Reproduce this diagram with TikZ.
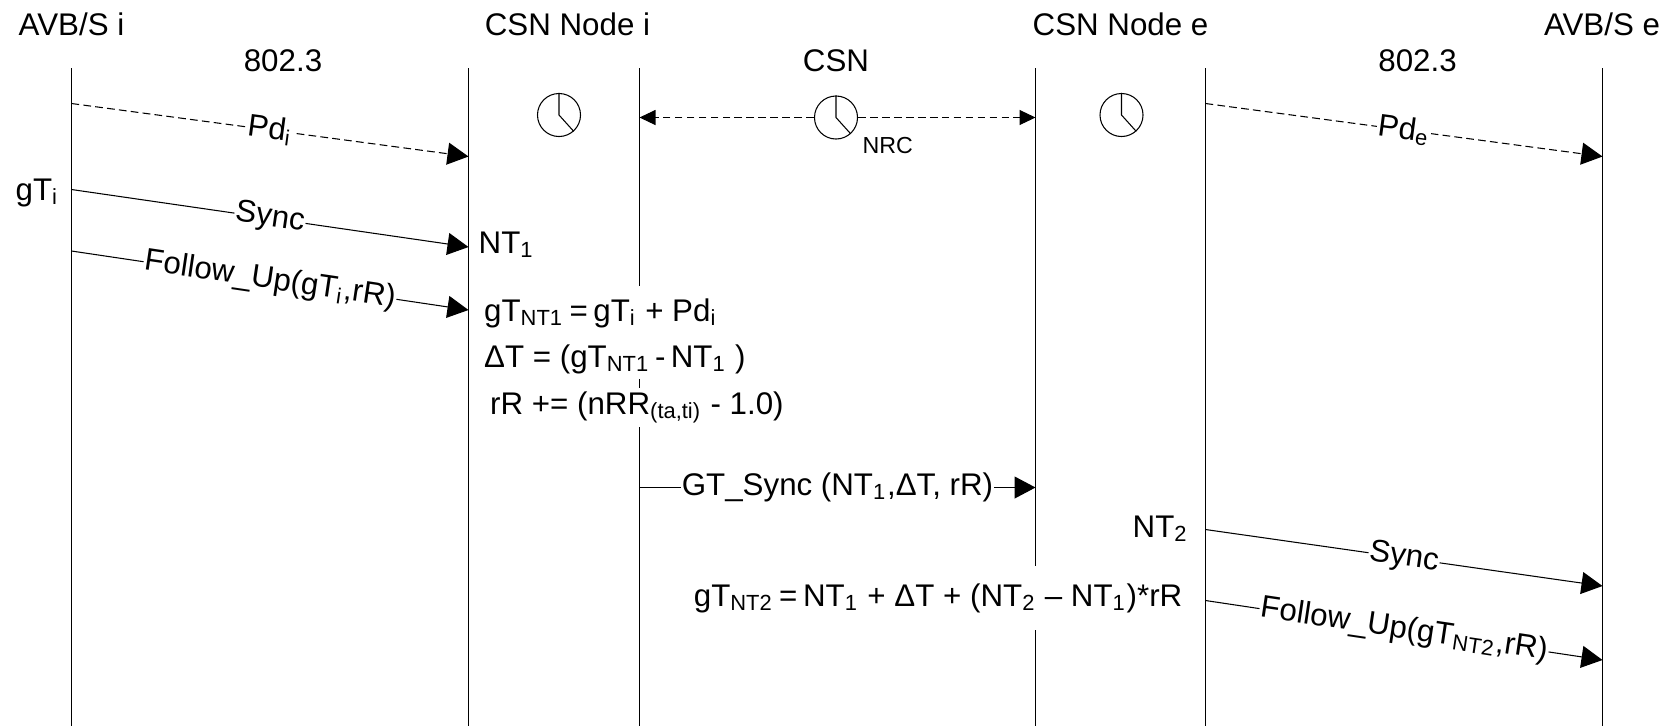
\documentclass[tikz,border=0pt]{standalone}
\usepackage{fontspec}
\setmainfont{Liberation Sans}
\usepackage{tikz}
\usetikzlibrary{positioning, arrows.meta}

\tikzset{
    lifeline/.style={line width=.3pt},
    msg/.style={line width=.3pt, -{Triangle[length=2.1mm, width=2.2mm]}},
    pdmsg/.style={msg, dash pattern=on 2.2pt off 1.2pt},
    nrclink/.style={line width=.3pt, dash pattern=on 2.2pt off 1.2pt, -{Triangle[length=1.6mm, width=1.5mm]}},
    msglabel/.style={midway, sloped, fill=white, inner xsep=.3pt, inner ysep=0pt},
    clock/.style={draw, circle, line width=.3pt, minimum size=.43cm, inner sep=0pt},
    txt/.style={anchor=base west, inner sep=0pt},
    title/.style={anchor=base, inner sep=0pt},
}

\begin{document}
\begin{tikzpicture}[x=.01cm, y=-.01cm, every node/.style={font=\fontsize{8.9}{10.5}\selectfont}]
            \useasboundingbox (0,0) rectangle (1670,726);

            % lifelines, left to right
            \foreach \name/\x in {AVBi/71.5, CSNiL/468.5, CSNiR/639.5, CSNeL/1035.5, CSNeR/1205.5, AVBe/1602.5} {
                \coordinate (\name Top) at (\x,68);
                \coordinate (\name Bot) at (\x,726);
                \draw [lifeline] (\name Top) -- (\name Bot);
            }

            \node [title] (AVBiName) at (71.5,35) {AVB/S i};
            \node [title] (CSNiName) at (567.5,35) {CSN Node i};
            \node [title] (CSNeName) at (1120.5,35) {CSN Node e};
            \node [title] (AVBeName) at (1602,35) {AVB/S e};
            \node [title] (LinkiName) at (283,71) {802.3};
            \node [title] (CSNName) at (836,71) {CSN};
            \node [title] (LinkeName) at (1417.5,71) {802.3};

            % clocks
            \node [clock] (Clocki) at (559,115) {};
            \node [clock] (ClockNRC) at (836,117.5) {};
            \node [clock] (Clocke) at (1121.5,115) {};
            \foreach \name in {Clocki, ClockNRC, Clocke}
                \draw [line width=.3pt] (\name.north) -- (\name.center) -- (\name.-48);
            \node [txt, font=\fontsize{6.6}{8}\selectfont] (NRCName) at (862,153) {NRC};

            \coordinate (NRCL) at (639.5,117.5);
            \coordinate (NRCR) at (1035.5,117.5);
            \draw [nrclink] (ClockNRC.west) -- (NRCL);
            \draw [nrclink] (ClockNRC.east) -- (NRCR);

            % messages on the ingress side
            \coordinate (PdiA) at (71.5,103.5);
            \coordinate (PdiB) at (468.5,156.5);
            \coordinate (SynciA) at (71.5,189.5);
            \coordinate (SynciB) at (468.5,247);
            \coordinate (FollowiA) at (71.5,251);
            \coordinate (FollowiB) at (468.5,310);

            \draw [pdmsg] (PdiA) -- node [msglabel] (PdiLabel) {Pd\textsubscript{i}} (PdiB);
            \draw [msg] (SynciA) -- node [msglabel] (SynciLabel) {Sync} (SynciB);
            \draw [msg] (FollowiA) -- node [msglabel] (FollowiLabel) {Follow\_Up(gT\textsubscript{i},rR)} (FollowiB);

            \node [txt] (gTi) at (15,200) {gT\textsubscript{i}};
            \node [txt] (NTone) at (478,253) {NT\textsubscript{1}};

            % white patch over the CSN Node i lifelines
            \node [fill=white, anchor=north west, inner sep=0pt, minimum width=2.4cm, minimum height=.93cm] (Patchi) at (469,285) {};
            \node [txt] (gTNTone) at (483.5,321) {gT\textsubscript{NT1}\kern1.6pt=\kern1.6pt gT\textsubscript{i} + Pd\textsubscript{i}};
            \node [txt] (DeltaT) at (483.5,367) {ΔT = (gT\textsubscript{NT1}\,-\,NT\textsubscript{1} )};
            \node [txt, fill=white, inner xsep=1pt, inner ysep=1pt] (rRupdate) at (486,414) {rR += (nRR\textsubscript{(ta,ti)} - 1.0)};

            \coordinate (GTSyncA) at (639.5,487.5);
            \coordinate (GTSyncB) at (1035.5,487.5);
            \draw [msg] (GTSyncA) -- node [msglabel] (GTSyncLabel) {GT\_Sync (NT\textsubscript{1},ΔT, rR)} (GTSyncB);

            % messages on the egress side
            \coordinate (PdeA) at (1205.5,103.5);
            \coordinate (PdeB) at (1602.5,156.5);
            \coordinate (SynceA) at (1205.5,529.5);
            \coordinate (SynceB) at (1602.5,586);
            \coordinate (FolloweA) at (1205.5,600.5);
            \coordinate (FolloweB) at (1602.5,660);

            \draw [pdmsg] (PdeA) -- node [msglabel] (PdeLabel) {Pd\textsubscript{e}} (PdeB);
            \draw [msg] (SynceA) -- node [msglabel] (SynceLabel) {Sync} (SynceB);
            \draw [msg] (FolloweA) -- node [msglabel] (FolloweLabel) {Follow\_Up(gT\textsubscript{NT2},rR)} (FolloweB);

            \node [anchor=base east, inner sep=0pt] (NTtwo) at (1189,537) {NT\textsubscript{2}};
            \node [anchor=base east, fill=white, inner xsep=0pt, inner ysep=5pt] (gTNTtwo) at (1183,606) {gT\textsubscript{NT2}\kern1.6pt=\kern1.6pt NT\textsubscript{1} + ΔT + (NT\textsubscript{2} – NT\textsubscript{1})*rR};

\end{tikzpicture}
\end{document}
